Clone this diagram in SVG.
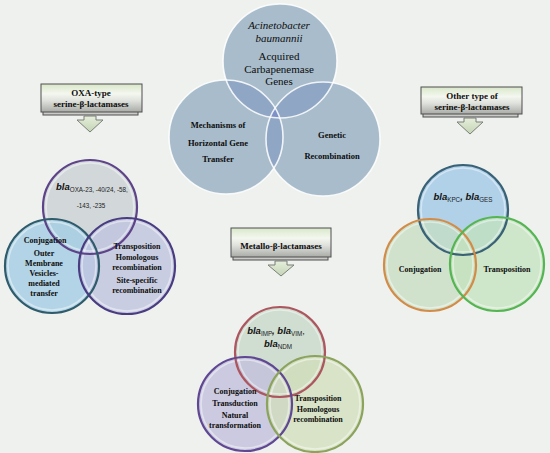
<svg xmlns="http://www.w3.org/2000/svg" width="550" height="453" viewBox="0 0 550 453">
<defs>
<style>
.ser{font-family:"Liberation Serif","Times New Roman",serif;fill:#0d0d0d;text-anchor:middle}
.b{font-weight:bold}
.bla{font-family:"Liberation Sans",Arial,sans-serif;font-weight:bold;font-style:italic;fill:#111111}
.sub{font-family:"Liberation Sans",Arial,sans-serif;fill:#222222}
.box{fill:url(#boxg);stroke:#4f4f4f;stroke-width:1}
.shadow{fill:#c9cbc7;stroke:#4f4f4f;stroke-width:1}
.arrow{fill:url(#arrg);stroke:#7b7f78;stroke-width:1}
.ring{fill:none;stroke-width:2.2}
.hl{fill:none;stroke:#ffffff;stroke-opacity:.45;stroke-width:1.6}
.top{fill:#a8bccb}
.ov{fill:#8fa6c5}
.ctr{fill:#7d91c8}
.wline{fill:none;stroke:#ffffff;stroke-width:1.6;stroke-opacity:.85}
</style>
<linearGradient id="boxg" x1="0" y1="0" x2="0" y2="1">
<stop offset="0" stop-color="#d9e7c9"/>
<stop offset="0.35" stop-color="#f4f7ef"/>
<stop offset="0.6" stop-color="#dfe1dc"/>
<stop offset="1" stop-color="#a9aba6"/>
</linearGradient>
<linearGradient id="arrg" x1="0" y1="0" x2="0" y2="1">
<stop offset="0" stop-color="#e6eedb"/>
<stop offset="1" stop-color="#c3d4b5"/>
</linearGradient>
<clipPath id="cT"><circle cx="280" cy="61" r="57"/></clipPath>
<clipPath id="cL"><circle cx="226" cy="137" r="57"/></clipPath>
<clipPath id="cR"><circle cx="323" cy="139" r="57"/></clipPath>
</defs>
<rect width="550" height="453" fill="#eef1ee"/>

<g id="main-venn">
<circle class="top" cx="280" cy="61" r="57"/>
<circle class="top" cx="226" cy="137" r="57"/>
<circle class="top" cx="323" cy="139" r="57"/>
<g clip-path="url(#cT)"><circle class="ov" cx="226" cy="137" r="57"/><circle class="ov" cx="323" cy="139" r="57"/></g>
<g clip-path="url(#cL)"><circle class="ov" cx="323" cy="139" r="57"/></g>
<g clip-path="url(#cT)"><g clip-path="url(#cL)"><circle class="ctr" cx="323" cy="139" r="57"/></g></g>
<circle class="wline" cx="280" cy="61" r="57"/>
<circle class="wline" cx="226" cy="137" r="57"/>
<circle class="wline" cx="323" cy="139" r="57"/>
<text class="ser" x="279" y="29" font-size="11" font-style="italic">Acinetobacter</text>
<text class="ser" x="279" y="42" font-size="11" font-style="italic">baumannii</text>
<text class="ser" x="279" y="60" font-size="11">Acquired</text>
<text class="ser" x="279" y="73" font-size="11">Carbapenemase</text>
<text class="ser" x="279" y="85" font-size="11">Genes</text>
<text class="ser b" x="218" y="128" font-size="8.5">Mechanisms of</text>
<text class="ser b" x="218" y="146" font-size="8.5">Horizontal Gene</text>
<text class="ser b" x="218" y="162" font-size="8.5">Transfer</text>
<text class="ser b" x="332" y="138" font-size="8.5">Genetic</text>
<text class="ser b" x="332" y="159" font-size="8.5">Recombination</text>
</g>

<g id="oxa-box">
<rect class="shadow" x="43" y="88" width="95" height="27"/>
<rect class="box" x="41" y="84" width="101" height="28"/>
<text class="ser b" x="91" y="96" font-size="9">OXA-type</text>
<text class="ser b" x="91" y="107" font-size="9">serine-β-lactamases</text>
</g>

<g id="other-box">
<rect class="shadow" x="423" y="91" width="95" height="26"/>
<rect class="box" x="421" y="87" width="101" height="27"/>
<text class="ser b" x="472" y="99" font-size="9">Other type of</text>
<text class="ser b" x="472" y="110" font-size="9">serine-β-lactamases</text>
</g>

<g id="metallo-box">
<rect class="shadow" x="233" y="232" width="95" height="28"/>
<rect class="box" x="231" y="228" width="100" height="29"/>
<text class="ser b" x="281" y="249" font-size="9">Metallo-β-lactamases</text>
</g>

<g id="connectors">
<polygon class="arrow" points="84,116 96,116 96,120 103,120 90,132 77,120 84,120"/>
<polygon class="arrow" points="464,118 476,118 476,122 483,122 470,134 457,122 464,122"/>
<polygon class="arrow" points="275,261 287,261 287,265 294,265 281,276 268,265 275,265"/>
</g>

<g id="oxa-venn">
<circle cx="90" cy="207" r="47" fill="#cdd3d6" fill-opacity="0.85"/>
<circle cx="52" cy="266" r="47" fill="#a3cde3" fill-opacity="0.8"/>
<circle cx="127" cy="266" r="48" fill="#bfc3df" fill-opacity="0.78"/>
<circle class="hl" cx="90" cy="207" r="44"/>
<circle class="hl" cx="52" cy="266" r="44"/>
<circle class="hl" cx="127" cy="266" r="45"/>
<circle class="ring" cx="90" cy="207" r="47" stroke="#5e4388"/>
<circle class="ring" cx="52" cy="266" r="47" stroke="#2f5b6b"/>
<circle class="ring" cx="127" cy="266" r="48" stroke="#4a3c80"/>
<text x="56" y="190"><tspan class="bla" font-size="9.5">bla</tspan><tspan class="sub" font-size="6.3" dy="2">OXA-23, -40/24, -58,</tspan></text>
<text class="sub" x="91" y="208" font-size="6.3" text-anchor="middle">-143, -235</text>
<text class="ser b" x="45" y="243" font-size="8">Conjugation</text>
<text class="ser b" x="44" y="256" font-size="8">Outer</text>
<text class="ser b" x="44" y="266" font-size="8">Membrane</text>
<text class="ser b" x="44" y="276" font-size="8">Vesicles-</text>
<text class="ser b" x="44" y="286" font-size="8">mediated</text>
<text class="ser b" x="44" y="296" font-size="8">transfer</text>
<text class="ser b" x="137" y="249" font-size="8">Transposition</text>
<text class="ser b" x="137" y="260" font-size="8">Homologous</text>
<text class="ser b" x="137" y="270" font-size="8">recombination</text>
<text class="ser b" x="137" y="283" font-size="8">Site-specific</text>
<text class="ser b" x="137" y="293" font-size="8">recombination</text>
</g>

<g id="other-venn">
<circle cx="463" cy="210" r="45" fill="#a6cbe7" fill-opacity="0.85"/>
<circle cx="430" cy="265" r="46" fill="#c6dcc0" fill-opacity="0.75"/>
<circle cx="497" cy="264" r="47" fill="#c3e2bc" fill-opacity="0.75"/>
<circle class="hl" cx="463" cy="210" r="42"/>
<circle class="hl" cx="430" cy="265" r="43"/>
<circle class="hl" cx="497" cy="264" r="44"/>
<circle class="ring" cx="463" cy="210" r="45" stroke="#3a6276"/>
<circle class="ring" cx="430" cy="265" r="46" stroke="#d38c48"/>
<circle class="ring" cx="497" cy="264" r="47" stroke="#55b552"/>
<text x="463" y="200" text-anchor="middle"><tspan class="bla" font-size="9.5">bla</tspan><tspan class="sub" font-size="6.3" dy="2">KPC</tspan><tspan class="bla" font-size="9.5" dy="-2">, bla</tspan><tspan class="sub" font-size="6.3" dy="2">GES</tspan></text>
<text class="ser b" x="420" y="272" font-size="8">Conjugation</text>
<text class="ser b" x="507" y="272" font-size="8">Transposition</text>
</g>

<g id="metallo-venn">
<circle cx="280" cy="352" r="45" fill="#c9dbca" fill-opacity="0.85"/>
<circle cx="245" cy="404" r="47" fill="#c1bfdd" fill-opacity="0.78"/>
<circle cx="315" cy="404" r="48" fill="#d0deb9" fill-opacity="0.75"/>
<circle class="hl" cx="280" cy="352" r="42"/>
<circle class="hl" cx="245" cy="404" r="44"/>
<circle class="hl" cx="315" cy="404" r="45"/>
<circle class="ring" cx="280" cy="352" r="45" stroke="#ad5660"/>
<circle class="ring" cx="245" cy="404" r="47" stroke="#5f4792"/>
<circle class="ring" cx="315" cy="404" r="48" stroke="#8ba35c"/>
<text x="276" y="334" text-anchor="middle"><tspan class="bla" font-size="9.5">bla</tspan><tspan class="sub" font-size="6.3" dy="2">IMP</tspan><tspan class="bla" font-size="9.5" dy="-2">, bla</tspan><tspan class="sub" font-size="6.3" dy="2">VIM</tspan><tspan class="sub" font-size="9" dy="-2">,</tspan></text>
<text x="278" y="347" text-anchor="middle"><tspan class="bla" font-size="9.5">bla</tspan><tspan class="sub" font-size="6.3" dy="2">NDM</tspan></text>
<text class="ser b" x="235" y="394" font-size="8">Conjugation</text>
<text class="ser b" x="235" y="406" font-size="8">Transduction</text>
<text class="ser b" x="235" y="418" font-size="8">Natural</text>
<text class="ser b" x="235" y="428" font-size="8">transformation</text>
<text class="ser b" x="318" y="401" font-size="8">Transposition</text>
<text class="ser b" x="318" y="412" font-size="8">Homologous</text>
<text class="ser b" x="318" y="422" font-size="8">recombination</text>
</g>
</svg>
